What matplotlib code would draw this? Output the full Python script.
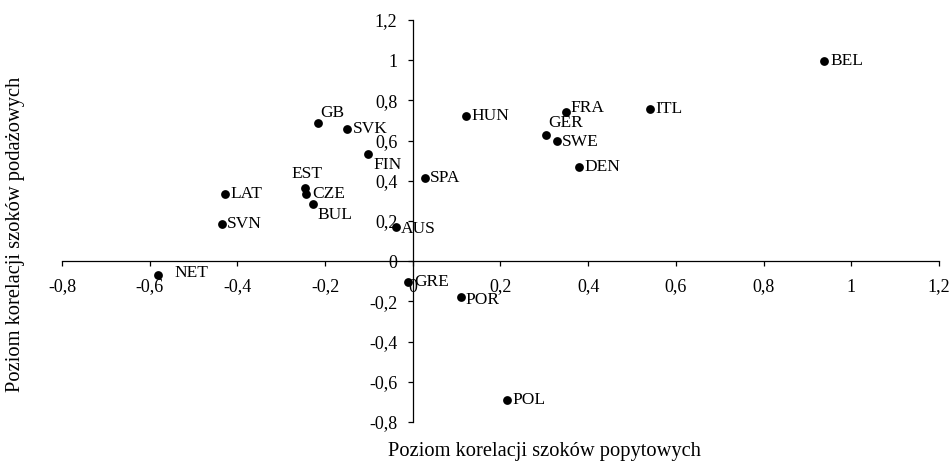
import matplotlib
matplotlib.use("Agg")
import matplotlib.pyplot as plt
from matplotlib.ticker import FuncFormatter

plt.rcParams['font.family'] = ['Liberation Serif', 'DejaVu Serif']

countries = ["BEL", "ITL", "FRA", "HUN", "GER", "SWE", "DEN", "GB", "SVK", "FIN",
             "SPA", "EST", "CZE", "LAT", "BUL", "SVN", "AUS", "NET", "GRE", "POR", "POL"]
demand = [0.939, 0.541, 0.350, 0.121, 0.305, 0.330, 0.380, -0.217, -0.150, -0.102,
          0.027, -0.246, -0.244, -0.429, -0.227, -0.436, -0.039, -0.582, -0.010, 0.110, 0.214]
supply = [0.998, 0.755, 0.742, 0.725, 0.626, 0.598, 0.467, 0.686, 0.656, 0.534,
          0.412, 0.365, 0.334, 0.335, 0.284, 0.184, 0.169, -0.070, -0.103, -0.179, -0.689]

x_ticks = [-0.8, -0.6, -0.4, -0.2, 0, 0.2, 0.4, 0.6, 0.8, 1, 1.2]
y_ticks = [-0.8, -0.6, -0.4, -0.2, 0, 0.2, 0.4, 0.6, 0.8, 1, 1.2]

# label offsets in points (dx, dy, ha, va)
offsets = {
    "GB": (2, 2, 'left', 'bottom'),
    "EST": (-10, 4, 'left', 'bottom'),
    "FIN": (4, -2, 'left', 'top'),
    "BUL": (3, -2, 'left', 'top'),
    "CZE": (5, 0, 'left', 'center'),
    "GER": (1, 3, 'left', 'bottom'),
    "SWE": (3, -1, 'left', 'center'),
    "NET": (12, 2, 'left', 'center'),
    "AUS": (4, -1, 'left', 'center'),
    "POR": (3, -2, 'left', 'center'),
    "FRA": (3, 3, 'left', 'center'),
}

fig = plt.figure(figsize=(9.49, 4.62), dpi=100)
ax = fig.add_axes([0.0653, 0.0866, 0.9241, 0.8700])

ax.scatter(demand, supply, s=40, color='black', zorder=3, linewidths=0)
for c, x, y in zip(countries, demand, supply):
    dx, dy, ha, va = offsets.get(c, (4, 0, 'left', 'center'))
    ax.annotate(c, (x, y), xytext=(dx, dy), textcoords='offset points',
                ha=ha, va=va, fontsize=12.5)

ax.set_xlim(-0.8, 1.2)
ax.set_ylim(-0.8, 1.2)
ax.set_xticks(x_ticks)
ax.set_yticks(y_ticks)
fmt = FuncFormatter(lambda v, p: ('%g' % round(v, 1)).replace('.', ',').replace('\u2212', '-'))
ax.xaxis.set_major_formatter(fmt)
ax.yaxis.set_major_formatter(fmt)

ax.spines['left'].set_position(('data', 0))
ax.spines['bottom'].set_position(('data', 0))
ax.spines['right'].set_visible(False)
ax.spines['top'].set_visible(False)
for s in ('left', 'bottom'):
    ax.spines[s].set_linewidth(0.9)
ax.tick_params(axis='both', direction='out', length=3.5, width=0.9, labelsize=13)
ax.tick_params(axis='x', pad=9)
ax.tick_params(axis='y', pad=7.5)

fig.text(0.574, 0.012, "Poziom korelacji szoków popytowych", ha='center', va='baseline', fontsize=14.8)
fig.text(0.016, 0.4935, "Poziom korelacji szoków podażowych", ha='center', va='center',
         rotation=90, fontsize=14.8)

fig.savefig("out.png", dpi=100)
